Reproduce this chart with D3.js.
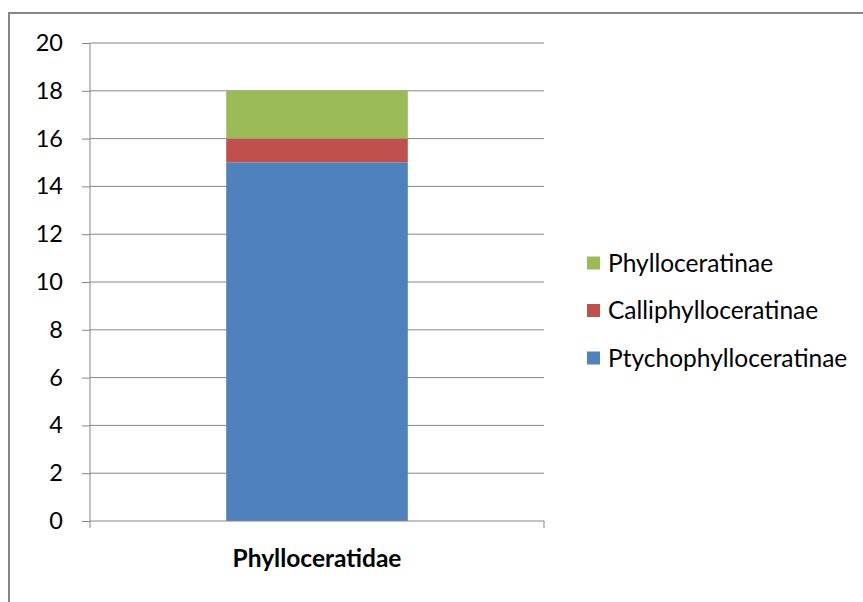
<!DOCTYPE html>
<html>
<head>
<meta charset="utf-8">
<script src="https://cdn.jsdelivr.net/npm/d3@7"></script>
<style>
  html, body { margin: 0; padding: 0; background: #fff; }
  svg { display: block; }
  text { font-family: Lato, "Open Sans", sans-serif; fill: #000; }
</style>
</head>
<body>
<svg id="chart" width="863" height="602"></svg>
<script>
// Subfamily counts within Phylloceratidae (stacked bottom to top)
const categories = ["Phylloceratidae"];
const seriesNames = ["Ptychophylloceratinae", "Calliphylloceratinae", "Phylloceratinae"];
const seriesValues = {
  "Ptychophylloceratinae": [15],
  "Calliphylloceratinae": [1],
  "Phylloceratinae": [2]
};
const seriesColors = ["#4f81bd", "#c0504d", "#9bbb59"];
const yTicks = [0, 2, 4, 6, 8, 10, 12, 14, 16, 18, 20];

const svg = d3.select("#chart");

// outer chart frame (runs off the right and bottom edges)
svg.append("rect")
  .attr("x", 9).attr("y", 13)
  .attr("width", 870).attr("height", 600)
  .attr("fill", "none").attr("stroke", "#878787").attr("stroke-width", 2);

const plot = { left: 90, right: 544, top: 43, bottom: 521 };

const x = d3.scaleBand().domain(categories)
  .range([plot.left, plot.right]).paddingInner(0.6).paddingOuter(0.3);
const y = d3.scaleLinear().domain([0, 20]).range([plot.bottom, plot.top]);

// gridlines
svg.append("g").selectAll("line").data(yTicks.filter(d => d > 0)).join("line")
  .attr("x1", plot.left).attr("x2", plot.right)
  .attr("y1", d => y(d)).attr("y2", d => y(d))
  .attr("stroke", "#868686").attr("stroke-width", 1);

// stacked bars
const rows = categories.map((c, i) => {
  const r = { category: c };
  seriesNames.forEach(s => r[s] = seriesValues[s][i]);
  return r;
});
const stack = d3.stack().keys(seriesNames)(rows);
svg.append("g").selectAll("g").data(stack).join("g")
  .attr("fill", (d, i) => seriesColors[i])
  .selectAll("rect").data(d => d).join("rect")
  .attr("x", d => x(d.data.category))
  .attr("width", x.bandwidth())
  .attr("y", d => y(d[1]))
  .attr("height", d => y(d[0]) - y(d[1]));

// y axis
const yAxis = svg.append("g").attr("transform", `translate(${plot.left},0)`)
  .call(d3.axisLeft(y).tickValues(yTicks).tickSize(8).tickPadding(19).tickFormat(d3.format("d")));
yAxis.select(".domain").attr("stroke", "#868686").attr("d", `M0,${plot.top}V${plot.bottom}`);
yAxis.selectAll(".tick line").attr("stroke", "#868686");
yAxis.selectAll(".tick text").attr("font-size", 23.5).attr("font-family", "Lato, sans-serif").attr("fill", "#000");

// x axis
const xAxis = svg.append("g").attr("transform", `translate(0,${plot.bottom})`)
  .call(d3.axisBottom(x).tickSize(0).tickPadding(29));
xAxis.select(".domain").attr("stroke", "#868686").attr("d", `M${plot.left},0H${plot.right}`);
xAxis.selectAll(".tick text").attr("font-size", 24.5).attr("font-weight", "bold")
  .attr("font-family", "Lato, sans-serif").attr("fill", "#000");
// category boundary ticks
xAxis.append("g").selectAll("line").data([plot.left, plot.right]).join("line")
  .attr("x1", d => d).attr("x2", d => d).attr("y1", 0).attr("y2", 7)
  .attr("stroke", "#868686");

// legend (top entry is the top of the stack)
const legendOrder = seriesNames.map((s, i) => ({ name: s, color: seriesColors[i] })).reverse();
const legend = svg.append("g").selectAll("g").data(legendOrder).join("g")
  .attr("transform", (d, i) => `translate(587,${263 + i * 47.5})`);
legend.append("rect").attr("x", 0).attr("y", -6.5).attr("width", 13).attr("height", 13)
  .attr("fill", d => d.color);
legend.append("text").attr("x", 21).attr("y", 0).attr("dy", "0.35em")
  .attr("font-size", 24.5).text(d => d.name);
</script>
</body>
</html>
